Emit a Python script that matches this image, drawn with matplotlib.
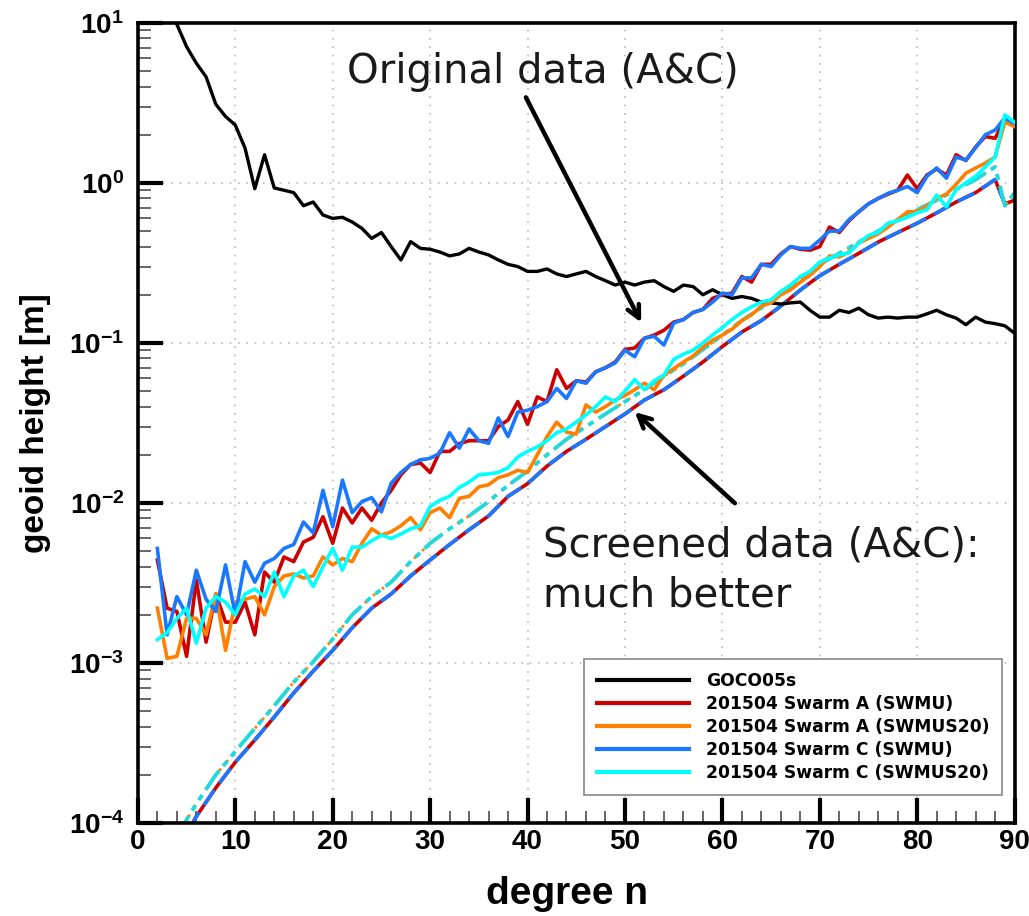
import matplotlib
matplotlib.use("Agg")
import matplotlib.pyplot as plt
import matplotlib.ticker as mticker
import numpy as np

plt.rcParams["font.family"] = ["Liberation Sans", "DejaVu Sans"]
plt.rcParams["mathtext.fontset"] = "custom"
plt.rcParams["mathtext.bf"] = "Liberation Sans:bold"
plt.rcParams["mathtext.rm"] = "Liberation Sans:bold"

# degrees 2..90
degrees = list(range(2, 91))

goco05s = [25, 14, 9.8, 7.1, 5.6, 4.6, 3.1, 2.6, 2.3, 1.65, 0.92, 1.5, 0.93, 0.90, 0.87,
           0.72, 0.76, 0.63, 0.60, 0.61, 0.57, 0.52, 0.45, 0.49, 0.40, 0.33, 0.43, 0.39,
           0.385, 0.37, 0.35, 0.36, 0.39, 0.37, 0.355, 0.33, 0.31, 0.30, 0.28, 0.28, 0.29,
           0.27, 0.26, 0.27, 0.28, 0.26, 0.245, 0.23, 0.24, 0.23, 0.24, 0.245, 0.225, 0.21,
           0.23, 0.225, 0.20, 0.215, 0.20, 0.19, 0.195, 0.19, 0.18, 0.178, 0.175, 0.178,
           0.18, 0.16, 0.145, 0.145, 0.16, 0.155, 0.165, 0.15, 0.143, 0.145, 0.143, 0.145,
           0.145, 0.152, 0.16, 0.15, 0.143, 0.13, 0.145, 0.135, 0.132, 0.128, 0.115]

swarm_a_swmu = [0.0044, 0.0022, 0.0021, 0.0011, 0.0033, 0.00135, 0.0027, 0.0018, 0.0018,
                0.0024, 0.0015, 0.0037, 0.0032, 0.0046, 0.0043, 0.0057, 0.0061, 0.0082,
                0.0056, 0.0093, 0.0075, 0.0093, 0.0078, 0.0100, 0.0120, 0.0150, 0.0174,
                0.0178, 0.0155, 0.021, 0.021, 0.0235, 0.0245, 0.0245, 0.0245, 0.030, 0.033,
                0.043, 0.031, 0.046, 0.043, 0.068, 0.052, 0.058, 0.057, 0.066, 0.070, 0.076,
                0.091, 0.093, 0.107, 0.112, 0.12, 0.135, 0.14, 0.155, 0.162, 0.19, 0.2,
                0.205, 0.26, 0.24, 0.31, 0.31, 0.36, 0.40, 0.385, 0.38, 0.40, 0.53, 0.49,
                0.58, 0.66, 0.74, 0.80, 0.85, 0.90, 1.12, 0.92, 1.12, 1.22, 1.12, 1.50,
                1.38, 1.68, 1.95, 1.9, 2.5, 2.35]

swarm_a_swmus20 = [0.0022, 0.00107, 0.0011, 0.0019, 0.0019, 0.0015, 0.0027, 0.0012, 0.0024,
                   0.0025, 0.0026, 0.0020, 0.0030, 0.0035, 0.0036, 0.0034, 0.0035, 0.0046,
                   0.0041, 0.0045, 0.0043, 0.0056, 0.0069, 0.0063, 0.0066, 0.0072, 0.0081,
                   0.0068, 0.0087, 0.0093, 0.0081, 0.0107, 0.011, 0.0126, 0.013, 0.0144,
                   0.0150, 0.016, 0.0155, 0.020, 0.026, 0.032, 0.0277, 0.027, 0.041, 0.037,
                   0.040, 0.044, 0.047, 0.051, 0.056, 0.051, 0.063, 0.069, 0.076, 0.083,
                   0.094, 0.104, 0.112, 0.122, 0.138, 0.15, 0.17, 0.178, 0.2, 0.215, 0.24,
                   0.265, 0.30, 0.35, 0.345, 0.37, 0.42, 0.45, 0.48, 0.53, 0.59, 0.66, 0.66,
                   0.72, 0.80, 0.85, 0.98, 1.15, 1.24, 1.33, 1.45, 2.4, 2.25]

swarm_c_swmu = [0.0052, 0.0015, 0.0026, 0.0020, 0.0038, 0.0025, 0.0021, 0.0041, 0.0020,
                0.0043, 0.0032, 0.0042, 0.0045, 0.0052, 0.0055, 0.0076, 0.0065, 0.012,
                0.0071, 0.0139, 0.0087, 0.0102, 0.0108, 0.0088, 0.0133, 0.0155, 0.0174,
                0.0186, 0.019, 0.0205, 0.0275, 0.022, 0.029, 0.0245, 0.0236, 0.034, 0.026,
                0.037, 0.038, 0.040, 0.043, 0.052, 0.045, 0.058, 0.056, 0.066, 0.070, 0.075,
                0.090, 0.082, 0.107, 0.11, 0.097, 0.133, 0.14, 0.155, 0.162, 0.18, 0.205,
                0.2, 0.255, 0.255, 0.31, 0.30, 0.355, 0.40, 0.39, 0.39, 0.44, 0.50, 0.50,
                0.59, 0.66, 0.74, 0.80, 0.86, 0.90, 0.95, 0.87, 1.1, 1.24, 1.07, 1.45,
                1.39, 1.66, 2.0, 2.14, 2.55, 2.35]

swarm_c_swmus20 = [0.0014, 0.00155, 0.0019, 0.0022, 0.00133, 0.0022, 0.0026, 0.0024, 0.0020,
                   0.0027, 0.0029, 0.0026, 0.0037, 0.0026, 0.0035, 0.0038, 0.0030, 0.0040,
                   0.0052, 0.0038, 0.0053, 0.0053, 0.0058, 0.0063, 0.0060, 0.0064, 0.0069,
                   0.0072, 0.0095, 0.0104, 0.011, 0.0125, 0.0135, 0.015, 0.0152, 0.0155,
                   0.0166, 0.0194, 0.021, 0.0224, 0.0245, 0.0275, 0.029, 0.032, 0.0355, 0.040,
                   0.046, 0.043, 0.050, 0.059, 0.051, 0.058, 0.063, 0.079, 0.085, 0.09, 0.1,
                   0.112, 0.125, 0.14, 0.155, 0.168, 0.18, 0.186, 0.21, 0.23, 0.26, 0.28,
                   0.32, 0.34, 0.355, 0.365, 0.42, 0.47, 0.49, 0.56, 0.58, 0.61, 0.65, 0.68,
                   0.84, 0.71, 0.91, 1.0, 1.1, 1.26, 1.45, 2.66, 2.4]

# formal errors (smooth curves)
err_degrees = [4, 6, 8, 10, 12, 14, 16, 18, 20, 22, 24, 26, 28, 30, 32, 34, 36, 38, 40, 42,
               44, 46, 48, 50, 52, 54, 56, 58, 60, 62, 64, 66, 68, 70, 72, 74, 76, 78, 80,
               82, 84, 86, 88, 89, 90]
formal_swmu = [6.6e-5, 1.1e-4, 1.66e-4, 2.4e-4, 3.3e-4, 4.6e-4, 6.5e-4, 8.9e-4, 1.2e-3,
               1.66e-3, 2.2e-3, 2.7e-3, 3.5e-3, 4.4e-3, 5.5e-3, 6.8e-3, 8.3e-3, 0.011,
               0.0132, 0.017, 0.021, 0.025, 0.030, 0.036, 0.044, 0.051, 0.062, 0.076, 0.095,
               0.117, 0.138, 0.17, 0.214, 0.263, 0.31, 0.363, 0.427, 0.49, 0.56, 0.65, 0.76,
               0.87, 1.05, 0.74, 0.78]
formal_swmus20 = [8.3e-5, 1.32e-4, 2.0e-4, 2.8e-4, 3.9e-4, 5.4e-4, 7.6e-4, 1.02e-3, 1.41e-3,
                  2.0e-3, 2.6e-3, 3.2e-3, 4.3e-3, 5.6e-3, 6.9e-3, 8.3e-3, 0.0102, 0.0129,
                  0.0158, 0.02, 0.025, 0.030, 0.036, 0.043, 0.051, 0.062, 0.074, 0.091, 0.112,
                  0.138, 0.166, 0.204, 0.25, 0.31, 0.363, 0.427, 0.5, 0.59, 0.68, 0.78, 0.91,
                  1.05, 1.26, 0.72, 0.87]

x_ticks = [0, 10, 20, 30, 40, 50, 60, 70, 80, 90]
y_exponents = [-4, -3, -2, -1, 0, 1]

labels = ["GOCO05s", "201504 Swarm A (SWMU)", "201504 Swarm A (SWMUS20)",
          "201504 Swarm C (SWMU)", "201504 Swarm C (SWMUS20)"]
colors = ["black", "#cc0000", "#ff8000", "#1a78ff", "#00ffff"]

fig = plt.figure(figsize=(10.29, 9.16), dpi=100)
ax = fig.add_axes([0.134, 0.1015, 0.852, 0.8735])

# formal errors first
ax.plot(err_degrees, formal_swmu, color="#cc0000", lw=2.6, zorder=2)
ax.plot(err_degrees, formal_swmu, color="#1a78ff", lw=2.6, linestyle=(0, (5, 2.5)), zorder=2)
ax.plot(err_degrees, formal_swmus20, color="#ff8000", lw=2.0, linestyle=(0, (1, 3)), zorder=2)
ax.plot(err_degrees, formal_swmus20, color="#22d8d8", lw=2.8,
        linestyle=(0, (6, 1.6, 1.6, 1.6, 1.6, 1.6)), zorder=2)

series = [goco05s, swarm_a_swmu, swarm_a_swmus20, swarm_c_swmu, swarm_c_swmus20]
widths = [2.4, 2.6, 2.6, 2.6, 2.6]
for vals, lab, col, lw in zip(series, labels, colors, widths):
    ax.plot(degrees, vals, color=col, lw=lw, label=lab, zorder=3)

ax.set_yscale("log")
ax.set_xlim(0, 90)
ax.set_ylim(1e-4, 1e1)

ax.set_xticks(x_ticks)
ax.xaxis.set_minor_locator(mticker.MultipleLocator(2))
ax.set_yticks([10.0 ** e for e in y_exponents])
ax.set_yticklabels([r"$\mathbf{10^{%d}}$" % e for e in y_exponents])
ax.yaxis.set_minor_locator(mticker.LogLocator(base=10, subs=np.arange(2, 10), numticks=20))
ax.yaxis.set_minor_formatter(mticker.NullFormatter())

ax.tick_params(which="major", direction="in", length=18, width=3, labelsize=20)
ax.tick_params(which="minor", direction="in", length=9, width=1.4, color="#666666")
ax.tick_params(axis="x", which="major", pad=4)
ax.tick_params(axis="y", which="major", pad=10)
for lab in ax.get_xticklabels():
    lab.set_fontweight("bold")

for sp in ax.spines.values():
    sp.set_linewidth(2.6)

ax.grid(True, which="major", linestyle=(0, (1, 4)), color="#bbbbbb", lw=1.2)

ax.set_xlabel("degree n", fontsize=28, fontweight="bold")
ax.set_ylabel("geoid height [m]", fontsize=24, fontweight="bold")
ax.xaxis.set_label_coords(0.49, -0.066)
ax.yaxis.set_label_coords(-0.099, 0.5)

leg = ax.legend(loc="lower right", bbox_to_anchor=(0.986, 0.035),
                prop={"family": "DejaVu Sans", "weight": "bold", "size": 12.3},
                fancybox=False, framealpha=1, edgecolor="#888888", handlelength=5.4,
                labelspacing=0.3, borderpad=0.75, handletextpad=1.0, borderaxespad=0)
leg.get_frame().set_linewidth(1.2)
for line in leg.get_lines():
    line.set_linewidth(3)

ann_font = ["DejaVu Sans"]
ax.text(21.5, 4.94, "Original data (A&C)", fontsize=29, family=ann_font,
        fontweight="normal", va="center", ha="left", color="#1a1a1a")
ax.annotate("", xy=(51.8, 0.1296), xytext=(39.7, 3.55),
            arrowprops=dict(arrowstyle="->,head_length=0.9,head_width=0.45",
                            color="black", lw=3.2), zorder=5)
ax.text(41.6, 0.0072, "Screened data (A&C):\nmuch better", fontsize=29, family=ann_font,
        fontweight="normal", va="top", ha="left", linespacing=1.3, color="#1a1a1a")
ax.annotate("", xy=(50.8, 0.038), xytext=(61.5, 0.0097),
            arrowprops=dict(arrowstyle="->,head_length=0.9,head_width=0.45",
                            color="black", lw=3.2), zorder=5)

fig.savefig("out.png", dpi=100)
